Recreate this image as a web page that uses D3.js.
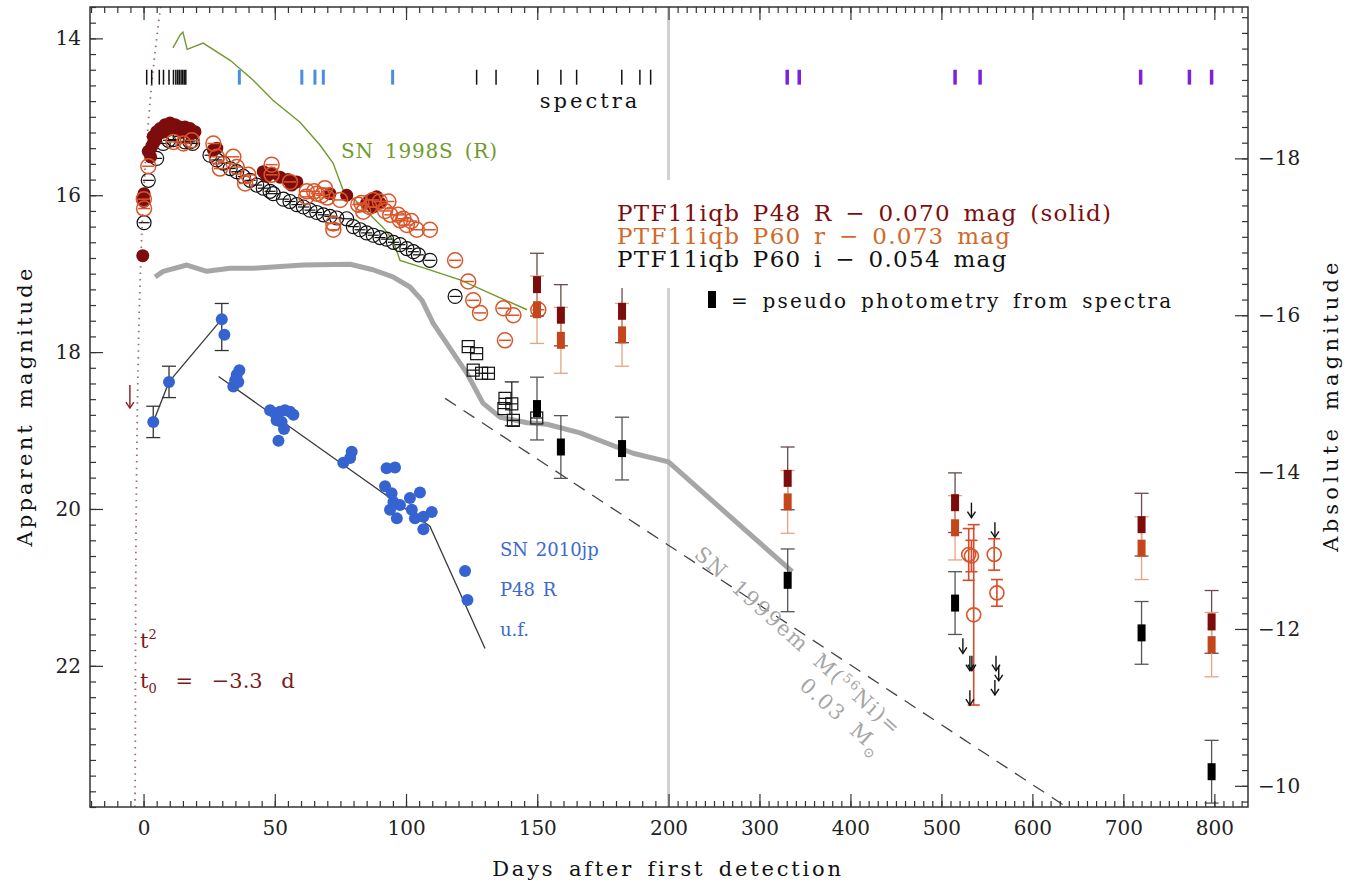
<!DOCTYPE html>
<html>
<head>
<meta charset="utf-8">
<script src="https://cdn.jsdelivr.net/npm/d3@7"></script>
<style>
  body { margin: 0; background: #fff; }
  text { font-family: "DejaVu Serif", "Liberation Serif", serif; }
</style>
</head>
<body>
<div id="chart"></div>
<script>
// ---- data (days after first detection, apparent mag) ----
const spectraBlack = [1.2, 3.1, 6, 7.6, 9.7, 11.4, 12.3, 13, 13.6, 14.3, 14.9, 15.5, 16.1,
  126.9, 134.3, 150.2, 159, 165, 182.2, 189.1, 193.2];
const spectraBlue = [36.5, 60.3, 65.3, 68.5, 94.9];
const spectraPurple = [330.5, 343.7, 515, 542.5, 719, 772.6, 797];

const sn1998S = [[11.2, 14.12], [13.9, 13.96], [15, 13.92], [16.6, 14.14], [22.7, 14.06], [33, 14.28],
  [41.7, 14.53], [49.3, 14.79], [59.6, 15.07], [67.2, 15.36], [72.2, 15.59], [76, 15.93], [80.6, 16.06],
  [91.2, 16.41], [95, 16.57], [97.7, 16.83], [106.1, 16.92], [120.6, 17.08], [146.1, 17.46]];

const sn1999em = [[4.4, 17.04], [7.5, 16.97], [16.5, 16.89], [24.1, 16.97], [33, 16.93], [42, 16.93],
  [60.8, 16.89], [78.7, 16.88], [87.4, 16.95], [95, 17.04], [101.5, 17.17], [106.1, 17.34], [110.3, 17.63],
  [123.2, 18.27], [129.3, 18.65], [135.8, 18.83], [146.1, 18.9], [153.7, 18.92], [166.3, 19.03],
  [186.5, 19.29], [200, 19.4], [336, 20.8]];

const ni56Decay = [[114.9, 18.59], [637.5, 23.8]];

const riseFit = [[-3.3, 23.8], [-3.2, 23.5], [-3.0, 21.2], [-2.6, 19.4], [-2.0, 18.05], [-1.0, 16.8],
  [0.5, 15.7], [2, 15.0], [4, 14.3], [6.5, 13.6]];

const p48R = [[-0.3, 16.77], [-0.1, 16.02], [0.1, 16.08], [0.2, 15.98], [1.8, 15.44], [2.7, 15.51],
  [3.1, 15.38], [3.7, 15.25], [3.7, 15.34], [4.5, 15.3], [5, 15.19], [6.3, 15.15], [7, 15.2], [8.2, 15.1],
  [9, 15.18], [10.1, 15.08], [11, 15.15], [12, 15.1], [13.9, 15.13], [14.5, 15.2], [15.8, 15.13],
  [16.5, 15.18], [17.7, 15.15], [18, 15.22], [19.6, 15.19],
  [26.6, 15.42], [27.9, 15.4], [45.6, 15.7], [46.9, 15.76], [48.8, 15.72], [52, 15.77], [55, 15.8],
  [55.8, 15.83], [56.4, 15.87], [57, 15.85], [58.4, 15.83], [71, 15.98], [77.4, 16.0], [85, 16.1],
  [86.3, 16.06], [87.5, 16.15], [88.8, 16.02], [90.1, 16.1]];

const p60r = [[0.1, 16.05], [0.2, 16.17], [1.8, 15.63], [11.4, 15.32], [15.2, 15.34], [18.4, 15.3],
  [26.6, 15.34], [27.9, 15.51], [29.1, 15.66], [34.2, 15.51], [35.5, 15.64], [38.7, 15.85], [39.9, 15.74],
  [48.8, 15.61], [48.8, 15.74], [55.8, 15.83], [62, 16.02], [62.2, 15.95], [65, 15.95], [66, 15.98],
  [68, 16.0], [69.1, 15.91], [70, 16.03], [72.3, 16.44], [72.3, 16.36], [74.9, 16.06], [81.8, 16.12],
  [83, 16.1], [83.7, 16.21], [86, 16.15], [87.5, 16.06], [90, 16.08], [92, 16.2], [93.3, 16.08],
  [94, 16.25], [97, 16.25], [97.7, 16.32], [99, 16.3], [100.3, 16.38], [102, 16.33], [104.1, 16.44],
  [109.1, 16.44], [118.7, 16.83], [123.7, 17.1], [125.6, 17.34], [128.2, 17.5], [137.1, 17.44],
  [137.7, 17.85], [140.9, 17.53], [150.4, 17.46]];
// late P60 r: day, mag, error
const p60rLate = [[530, 20.58, 0.33], [533, 20.6, 0.2], [535.5, 21.35, 1.15], [558, 20.58, 0.2], [561, 21.07, 0.17]];

const p60i = [[0.2, 16.35], [1.8, 15.81], [5, 15.53], [7.5, 15.34], [9.5, 15.3], [11.4, 15.29],
  [13.9, 15.25], [15.8, 15.32], [17.7, 15.32], [18.7, 15.34],
  [25.3, 15.49], [27.9, 15.55], [30.4, 15.59], [33, 15.66], [35.5, 15.7], [38, 15.76], [40.6, 15.81],
  [43.1, 15.87], [45.6, 15.91], [48.2, 15.95], [49.4, 15.98],
  [53.3, 16.05], [55.8, 16.08], [58.4, 16.12], [60.9, 16.15], [63.4, 16.19], [66, 16.22], [68.5, 16.25],
  [71, 16.27], [73.6, 16.29], [77.4, 16.3],
  [79.9, 16.4], [82.5, 16.44], [85, 16.48], [87.5, 16.51], [90.1, 16.54], [92.6, 16.56], [95.2, 16.6],
  [97.7, 16.63], [100.3, 16.68], [102.8, 16.72], [104.7, 16.76], [109.1, 16.83], [118.7, 17.29]];
// late P60 i (squares): day, mag, error
const p60iLate = [[123.7, 17.93, 0], [125.6, 18.23, 0], [126.9, 18.02, 0], [128.8, 18.27, 0], [131.4, 18.27, 0],
  [137.3, 18.72, 0], [137.7, 18.59, 0], [140.3, 18.66, 0.28], [140.9, 18.87, 0], [149.8, 18.84, 0]];

// pseudo photometry from spectra
const pseudoDays = [149.9, 159, 182.3, 331, 515, 720, 797];
const pseudoR = [17.14, 17.53, 17.48, 19.61, 19.92, 20.2, 21.44];
const pseudoRerr = [0.4, 0.39, 0.4, 0.4, 0.38, 0.4, 0.4];
const pseudor = [17.46, 17.85, 17.78, 19.91, 20.24, 20.5, 21.73];
const pseudorErr = [0.43, 0.42, 0.4, 0.4, 0.41, 0.4, 0.41];
const pseudoi = [18.72, 19.21, 19.23, 20.91, 21.2, 21.58, 23.35];
const pseudoiErr = [0.4, 0.4, 0.4, 0.4, 0.4, 0.4, 0.4];

const limitsI = [[533, 19.92], [558.8, 20.17], [523.6, 21.65], [531.3, 21.87], [533.5, 21.87],
  [531.3, 22.31], [560, 21.87], [563, 22.0], [558.8, 22.18]];
const limitsR = [[-5.2, 18.42]];

// SN 2010jp: day, mag, err up, err down
const sn2010jp = [[3.7, 18.89, 0.2, 0.2], [9.7, 18.38, 0.2, 0.2], [29.8, 17.58, 0.2, 0.4], [30.8, 17.78, 0, 0],
  [34.2, 18.44], [34.9, 18.36], [35.5, 18.29], [36.1, 18.38], [36.5, 18.23], [48.2, 18.74], [50.1, 18.78],
  [50.7, 18.87], [51.4, 19.13], [52, 18.76], [52.6, 18.89], [53.5, 18.98], [53.9, 18.74], [55.8, 18.76],
  [57.1, 18.8], [76.1, 19.41], [78.7, 19.35], [79.3, 19.27], [92, 19.71], [92.6, 19.48], [93.9, 20.01],
  [94.5, 19.8], [95.2, 19.91], [95.8, 19.47], [96.5, 20.12], [97.7, 19.95], [101.5, 19.86], [102.2, 20.01],
  [103.4, 20.12], [105.3, 19.79], [106.6, 20.1], [106.6, 20.26], [109.8, 20.04], [122.5, 20.79], [123.4, 21.16]];
const fit2010jpRise = [[3.7, 18.89], [9.7, 18.38], [29.8, 17.58]];
const fit2010jpDecline = [[28.6, 18.31], [109.1, 20.22], [130.1, 21.78]];

const xMajor = [0, 50, 100, 150, 200, 300, 400, 500, 600, 700, 800];
const yMajor = [14, 16, 18, 20, 22];
const absMajor = [-18, -16, -14, -12, -10];
const distMod = 33.53;

// ---- layout ----
const W = 1350, H = 884;
const L = 90, R = 1248, T = 7, B = 807;

const x = d3.scaleLinear().domain([-20.4, 200, 837]).range([L, 668.5, R]);
const y = d3.scaleLinear().domain([13.6, 23.8]).range([T, B]);
const yAbs = d3.scaleLinear().domain([13.6 - distMod, 23.8 - distMod]).range([T, B]);

const cDark = "#7d0c0c", cOrange = "#d9552a", cOrangeSq = "#c4461a", cBlue = "#3563d0";

const svg = d3.select("#chart").append("svg").attr("width", W).attr("height", H);
svg.append("rect").attr("width", W).attr("height", H).attr("fill", "#fff");
svg.append("defs").append("clipPath").attr("id", "clip")
  .append("rect").attr("x", L).attr("y", T).attr("width", R - L).attr("height", B - T);
const plot = svg.append("g").attr("clip-path", "url(#clip)");

const line = d3.line().x(d => x(d[0])).y(d => y(d[1]));

// day 200 break line
plot.append("line").attr("x1", x(200)).attr("x2", x(200)).attr("y1", T).attr("y2", B)
  .attr("stroke", "#d2d2d2").attr("stroke-width", 3);

// SN 1999em template
plot.append("path").attr("d", line(sn1999em)).attr("fill", "none")
  .attr("stroke", "#a6a6a6").attr("stroke-width", 5).attr("stroke-linejoin", "round");
// Ni56 decay
plot.append("path").attr("d", line(ni56Decay)).attr("fill", "none")
  .attr("stroke", "#444").attr("stroke-width", 1.3).attr("stroke-dasharray", "13,9");
// SN 1998S
plot.append("path").attr("d", line(sn1998S)).attr("fill", "none")
  .attr("stroke", "#6f9a2c").attr("stroke-width", 1.4);
// t^2 rise fit
plot.append("path").attr("d", line.curve(d3.curveMonotoneX)(riseFit)).attr("fill", "none")
  .attr("stroke", "#9a7070").attr("stroke-width", 1.8).attr("stroke-dasharray", "1.5,5");
line.curve(d3.curveLinear);

// SN 2010jp fits
[fit2010jpRise, fit2010jpDecline].forEach(f => {
  plot.append("path").attr("d", line(f)).attr("fill", "none").attr("stroke", "#3a3a3a").attr("stroke-width", 1.3);
});

function errBar(g, d, lo, hi, color, cap, w) {
  const px = x(d);
  g.append("line").attr("x1", px).attr("x2", px).attr("y1", y(lo)).attr("y2", y(hi))
    .attr("stroke", color).attr("stroke-width", w || 1.3);
  [lo, hi].forEach(v => g.append("line").attr("x1", px - cap).attr("x2", px + cap)
    .attr("y1", y(v)).attr("y2", y(v)).attr("stroke", color).attr("stroke-width", w || 1.3));
}

// SN 2010jp points
sn2010jp.filter(d => d[2] > 0 || d[3] > 0)
  .forEach(d => errBar(plot, d[0], d[1] - d[2], d[1] + d[3], "#333", 7));
plot.selectAll(".jp").data(sn2010jp).enter().append("circle")
  .attr("cx", d => x(d[0])).attr("cy", d => y(d[1])).attr("r", 6).attr("fill", cBlue);

// spectra epochs
function specTicks(days, color, w) {
  plot.selectAll(null).data(days).enter().append("line")
    .attr("x1", d => x(d)).attr("x2", d => x(d)).attr("y1", y(14.4)).attr("y2", y(14.59))
    .attr("stroke", color).attr("stroke-width", w);
}
specTicks(spectraBlack, "#111", 1.5);
specTicks(spectraBlue, "#4a8ee0", 3);
specTicks(spectraPurple, "#7a22e0", 3.5);

// photometry
function barCircles(data, color, r, w) {
  const g = plot.append("g").selectAll(null).data(data).enter().append("g")
    .attr("transform", d => `translate(${x(d[0])},${y(d[1])})`);
  g.append("circle").attr("r", r).attr("fill", "none").attr("stroke", color).attr("stroke-width", w);
  g.append("line").attr("x1", -r + 1.5).attr("x2", r - 1.5).attr("stroke", color).attr("stroke-width", w);
}
barCircles(p60i, "#111", 7, 1.2);
p60iLate.filter(d => d[2] > 0).forEach(d => errBar(plot, d[0], d[1] - d[2], d[1] + d[2], "#222", 7));
const sq = plot.append("g").selectAll(null).data(p60iLate).enter().append("g")
  .attr("transform", d => `translate(${x(d[0])},${y(d[1])})`);
sq.append("rect").attr("x", -6).attr("y", -6).attr("width", 12).attr("height", 12)
  .attr("fill", "none").attr("stroke", "#111").attr("stroke-width", 1.2);
sq.append("line").attr("x1", -6).attr("x2", 6).attr("stroke", "#111").attr("stroke-width", 1.2);

plot.append("g").selectAll(null).data(p48R).enter().append("circle")
  .attr("cx", d => x(d[0])).attr("cy", d => y(d[1])).attr("r", 6.5).attr("fill", cDark);
barCircles(p60r, cOrange, 7.5, 1.5);

p60rLate.forEach(d => errBar(plot, d[0], d[1] - d[2], d[1] + d[2], "#d84a2a", 6, 1.6));
plot.append("g").selectAll(null).data(p60rLate).enter().append("circle")
  .attr("cx", d => x(d[0])).attr("cy", d => y(d[1])).attr("r", 7)
  .attr("fill", "none").attr("stroke", cOrange).attr("stroke-width", 1.6);

// pseudo photometry squares with errors
pseudoDays.forEach((d, i) => {
  errBar(plot, d, pseudoR[i] - pseudoRerr[i], pseudoR[i] + pseudoRerr[i], "#6a4a4a", 7);
  errBar(plot, d, pseudor[i] - pseudorErr[i], pseudor[i] + pseudorErr[i], "#e6a47e", 7);
  errBar(plot, d, pseudoi[i] - pseudoiErr[i], pseudoi[i] + pseudoiErr[i], "#555", 7);
});
[[pseudoR, cDark], [pseudor, cOrangeSq], [pseudoi, "#000"]].forEach(([mags, col]) => {
  plot.append("g").selectAll(null).data(pseudoDays).enter().append("rect")
    .attr("x", d => x(d) - 4).attr("y", (d, i) => y(mags[i]) - 8.5)
    .attr("width", 8).attr("height", 17).attr("fill", col);
});

// upper limits
function arrows(data, color, len) {
  const g = plot.append("g").selectAll(null).data(data).enter().append("g")
    .attr("transform", d => `translate(${x(d[0])},${y(d[1])})`);
  g.append("line").attr("y1", 0).attr("y2", len).attr("stroke", color).attr("stroke-width", 1.4);
  g.append("path").attr("d", `M-4,${len - 6}L0,${len}L4,${len - 6}`).attr("fill", "none")
    .attr("stroke", color).attr("stroke-width", 1.4);
}
arrows(limitsI, "#111", 15);
arrows(limitsR, "#8b1a1a", 23);

// ---- annotations ----
const ann = svg.append("g");
ann.append("text").attr("x", 590).attr("y", 108).attr("text-anchor", "middle")
  .attr("font-size", 21).attr("letter-spacing", 3).attr("fill", "#111").text("spectra");
ann.append("text").attr("x", 341).attr("y", 158).attr("font-size", 20).attr("fill", "#6f9a2c")
  .attr("word-spacing", 4).attr("letter-spacing", 0.8).text("SN 1998S (R)");

ann.append("rect").attr("x", 612).attr("y", 180).attr("width", 510).attr("height", 108).attr("fill", "#fff");
const legend = [["PTF11iqb P48 R \u2212 0.070 mag (solid)", cDark, 221],
  ["PTF11iqb P60 r \u2212 0.073 mag", "#d0692a", 244],
  ["PTF11iqb P60 i \u2212 0.054 mag", "#111", 267]];
legend.forEach(l => ann.append("text").attr("x", 617).attr("y", l[2]).attr("font-size", 23)
  .attr("fill", l[1]).attr("word-spacing", 4).attr("letter-spacing", 1.3).text(l[0]));
ann.append("rect").attr("x", 708).attr("y", 291).attr("width", 8).attr("height", 17).attr("fill", "#000");
ann.append("text").attr("x", 731).attr("y", 308).attr("font-size", 20).attr("fill", "#111")
  .attr("word-spacing", 4).attr("letter-spacing", 2.2).text("= pseudo photometry from spectra");

const jp = [["SN 2010jp", 556], ["P48 R", 596], ["u.f.", 636]];
jp.forEach(t => ann.append("text").attr("x", 500).attr("y", t[1]).attr("font-size", 18)
  .attr("fill", "#3a6ad0").attr("word-spacing", 2).text(t[0]));

const t2 = ann.append("text").attr("x", 140).attr("y", 648).attr("font-size", 21).attr("fill", "#7a1a1a");
t2.append("tspan").text("t");
t2.append("tspan").attr("dy", -9).attr("font-size", 13).text("2");
const t0 = ann.append("text").attr("x", 140).attr("y", 688).attr("font-size", 21).attr("fill", "#7a1a1a");
t0.append("tspan").text("t");
t0.append("tspan").attr("dy", 5).attr("font-size", 13).text("0");
t0.append("tspan").attr("dy", -5).attr("word-spacing", 12).text(" = \u22123.3 d");

const emg = ann.append("g").attr("transform", "translate(693,556) rotate(42)");
const e1 = emg.append("text").attr("font-size", 21).attr("fill", "#a6a6a6")
  .attr("word-spacing", 6).attr("letter-spacing", 1.6);
e1.append("tspan").text("SN 1999em M(");
e1.append("tspan").attr("dy", -8).attr("font-size", 13).text("56");
e1.append("tspan").attr("dy", 8).text("Ni)=");
const e2 = emg.append("text").attr("x", 166).attr("y", 27).attr("font-size", 21)
  .attr("fill", "#a6a6a6").attr("word-spacing", 6).attr("letter-spacing", 1.6);
e2.append("tspan").text("0.03 M");
e2.append("tspan").attr("dy", 6).attr("font-size", 14).text("\u2299");

// ---- axes ----
function styleAxis(g) {
  g.select(".domain").remove();
  g.selectAll("line").attr("stroke", "#333").attr("stroke-width", 1.2);
  g.selectAll("text").attr("font-family", "DejaVu Serif").attr("font-size", 20).attr("fill", "#222");
}
const xMinor = d3.range(-20, 200, 5).concat(d3.range(210, 837, 10));
const yMinor = d3.range(0, 52).map(i => +(13.6 + i * 0.2).toFixed(1));
const absMinor = d3.range(0, 51).map(i => +(-19.8 + i * 0.2).toFixed(1));

svg.append("g").attr("transform", `translate(0,${B})`)
  .call(d3.axisBottom(x).tickValues(xMinor).tickSize(-6).tickFormat("")).call(styleAxis);
svg.append("g").attr("transform", `translate(0,${B})`)
  .call(d3.axisBottom(x).tickValues(xMajor).tickSize(-13).tickPadding(14).tickFormat(d3.format("d"))).call(styleAxis);
svg.append("g").attr("transform", `translate(0,${T})`)
  .call(d3.axisTop(x).tickValues(xMinor).tickSize(-6).tickFormat("")).call(styleAxis);
svg.append("g").attr("transform", `translate(0,${T})`)
  .call(d3.axisTop(x).tickValues(xMajor).tickSize(-13).tickFormat("")).call(styleAxis);

svg.append("g").attr("transform", `translate(${L},0)`)
  .call(d3.axisLeft(y).tickValues(yMinor).tickSize(-6).tickFormat("")).call(styleAxis);
svg.append("g").attr("transform", `translate(${L},0)`)
  .call(d3.axisLeft(y).tickValues(yMajor).tickSize(-13).tickPadding(9).tickFormat(d3.format("d"))).call(styleAxis);
svg.append("g").attr("transform", `translate(${R},0)`)
  .call(d3.axisRight(yAbs).tickValues(absMinor).tickSize(-6).tickFormat("")).call(styleAxis);
svg.append("g").attr("transform", `translate(${R},0)`)
  .call(d3.axisRight(yAbs).tickValues(absMajor).tickSize(-13).tickPadding(10)
    .tickFormat(d => "\u2212" + Math.abs(d))).call(styleAxis);

svg.append("rect").attr("x", L).attr("y", T).attr("width", R - L).attr("height", B - T)
  .attr("fill", "none").attr("stroke", "#333").attr("stroke-width", 1.5);

svg.append("text").attr("x", 668).attr("y", 876).attr("text-anchor", "middle").attr("font-size", 21)
  .attr("fill", "#111").attr("word-spacing", 4).attr("letter-spacing", 2.8).text("Days after first detection");
svg.append("text").attr("transform", "translate(32,406) rotate(-90)").attr("text-anchor", "middle")
  .attr("font-size", 21).attr("fill", "#111").attr("word-spacing", 4).attr("letter-spacing", 3.2)
  .text("Apparent magnitude");
svg.append("text").attr("transform", "translate(1338,405) rotate(-90)").attr("text-anchor", "middle")
  .attr("font-size", 21).attr("fill", "#111").attr("word-spacing", 4).attr("letter-spacing", 4.2)
  .text("Absolute magnitude");
</script>
</body>
</html>
